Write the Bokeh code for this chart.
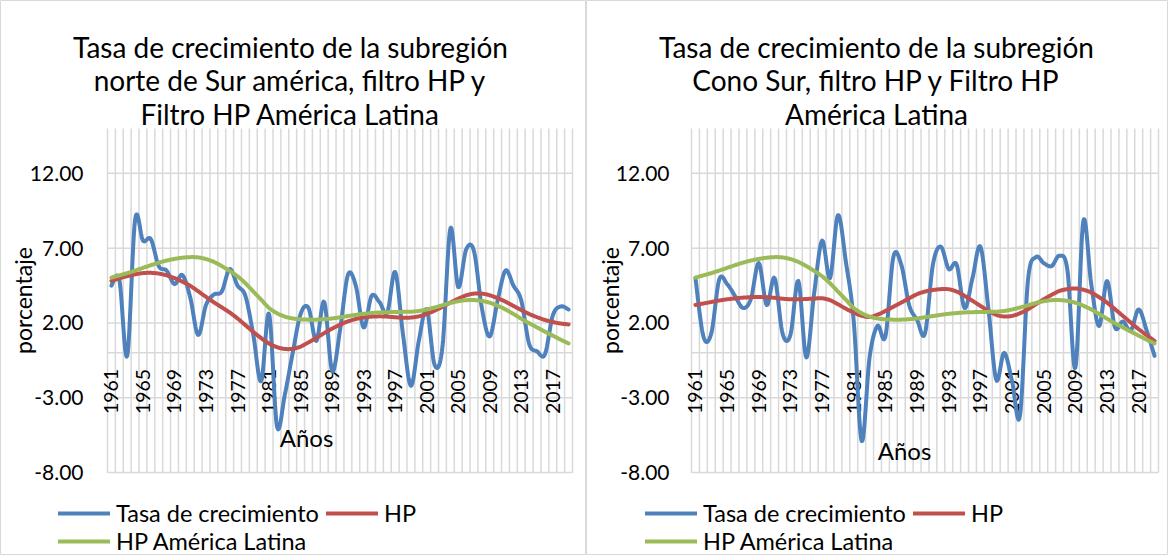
import numpy as np
from bokeh.plotting import figure
from bokeh.models import Range1d, Label, Legend, LegendItem, ColumnDataSource
from bokeh.layouts import row
from bokeh.embed import file_html
from bokeh.resources import INLINE
from bokeh.core.properties import value

# ---------------- data ----------------
years = list(range(1961, 2020))
tick_years = list(range(1961, 2018, 4))
y_ticks = [-8, -3, 2, 7, 12]

norte_tasa = [4.5, 4.9, -0.2, 8.9, 7.5, 7.6, 5.8, 5.5, 4.6, 5.2,
              3.7, 1.2, 3.2, 3.9, 4.1, 5.6, 4.5, 3.8, 1.2, -1.9,
              2.6, -4.9, -2.8, 0.0, 2.6, 3.0, 0.8, 3.4, -1.2, 1.5,
              5.2, 4.5, 1.7, 3.8, 3.4, 2.7, 5.4, 1.2, -2.2, 0.8,
              2.9, -0.8, 0.4, 8.3, 4.4, 6.9, 6.8, 3.0, 1.1, 3.5,
              5.5, 4.5, 3.5, 0.6, 0.1, -0.1, 2.5, 3.1, 2.9]

norte_hp = [4.81, 4.98, 5.13, 5.25, 5.33, 5.35, 5.30, 5.18, 5.00, 4.76,
            4.48, 4.12, 3.74, 3.38, 3.04, 2.70, 2.30, 1.85, 1.40, 0.98,
            0.62, 0.38, 0.26, 0.27, 0.42, 0.70, 1.00, 1.32, 1.62, 1.88,
            2.10, 2.26, 2.37, 2.42, 2.44, 2.42, 2.38, 2.35, 2.36, 2.44,
            2.60, 2.82, 3.08, 3.36, 3.62, 3.84, 3.96, 3.96, 3.85, 3.66,
            3.42, 3.14, 2.86, 2.60, 2.38, 2.20, 2.06, 1.96, 1.90]

cono_tasa = [5.0, 1.1, 1.3, 4.9, 4.6, 3.8, 3.0, 3.6, 6.0, 3.2,
             5.0, 1.3, 1.2, 4.8, -0.3, 4.0, 7.5, 5.0, 9.2, 6.1,
             2.1, -5.9, -0.3, 1.8, 1.1, 6.4, 5.9, 3.2, 2.2, 1.3,
             5.9, 7.1, 5.6, 5.9, 3.0, 5.0, 7.1, 3.0, -1.8, 0.0,
             -1.9, -4.2, 4.8, 6.4, 6.0, 5.8, 6.5, 5.5, -1.0, 8.8,
             4.6, 1.8, 4.8, 1.7, 2.1, 1.5, 2.9, 1.5, -0.2]

cono_hp = [3.20, 3.30, 3.40, 3.50, 3.58, 3.64, 3.69, 3.72, 3.74, 3.72,
           3.68, 3.62, 3.58, 3.58, 3.60, 3.63, 3.65, 3.52, 3.25, 2.95,
           2.69, 2.48, 2.40, 2.55, 2.80, 3.08, 3.36, 3.65, 3.92, 4.10,
           4.20, 4.26, 4.25, 4.10, 3.81, 3.48, 3.14, 2.82, 2.54, 2.43,
           2.47, 2.65, 2.91, 3.25, 3.58, 3.88, 4.14, 4.26, 4.30, 4.22,
           4.03, 3.72, 3.36, 2.92, 2.47, 2.02, 1.58, 1.18, 0.80]

hp_al = [5.03, 5.18, 5.33, 5.50, 5.68, 5.86, 6.03, 6.17, 6.28, 6.36,
         6.40, 6.38, 6.27, 6.08, 5.80, 5.48, 5.12, 4.65, 4.10, 3.55,
         3.00, 2.65, 2.42, 2.30, 2.24, 2.22, 2.22, 2.25, 2.30, 2.38,
         2.46, 2.54, 2.61, 2.66, 2.70, 2.72, 2.73, 2.74, 2.75, 2.80,
         2.90, 3.03, 3.18, 3.33, 3.45, 3.52, 3.53, 3.47, 3.35, 3.15,
         2.90, 2.60, 2.28, 1.98, 1.70, 1.42, 1.15, 0.88, 0.63]

series_names = ["Tasa de crecimiento", "HP", "HP América Latina"]
titles_norte = ["Tasa de crecimiento de la subregión",
                "norte de Sur américa, filtro HP y",
                "Filtro HP América Latina"]
titles_cono = ["Tasa de crecimiento de la subregión",
               "Cono Sur, filtro HP y Filtro HP",
               "América Latina"]
x_title = "Años"
y_title = "porcentaje"

# ---------------- style ----------------
FONT = "Lato"
BLUE, RED, GREEN = "#4f81bd", "#c0504d", "#9bbb59"
GRID = "#d9d9d9"
Y0, Y1 = -8, 15
X0, X1 = years[0] - 0.5, years[-1] + 0.5
H = 555
FT, FB = 128, 472          # plot-area top / bottom (px)


def smooth(xs, ys, n=12):
    """Excel-like smoothed line (Catmull-Rom through the data points)."""
    x = np.asarray(xs, float)
    y = np.asarray(ys, float)
    xp = np.concatenate([[x[0]], x, [x[-1]]])
    yp = np.concatenate([[y[0]], y, [y[-1]]])
    t = np.linspace(0, 1, n, endpoint=False)
    ox, oy = [], []
    for i in range(len(x) - 1):
        for P, out in ((xp, ox), (yp, oy)):
            p0, p1, p2, p3 = P[i], P[i + 1], P[i + 2], P[i + 3]
            c = 0.5 * (2 * p1 + (-p0 + p2) * t + (2 * p0 - 5 * p1 + 4 * p2 - p3) * t ** 2
                       + (-p0 + 3 * p1 - 3 * p2 + p3) * t ** 3)
            out.extend(c.tolist())
    ox.append(x[-1])
    oy.append(y[-1])
    return ox, oy


def make_chart(W, fl, fr, tasa, hp, title_lines, title_cx, anos_xy, ylab_x, legend_x):
    ppx = (fr - fl) / (X1 - X0)
    ppy = (FB - FT) / (Y1 - Y0)
    xr = Range1d(X0 - fl / ppx, X1 + (W - fr) / ppx)
    yr = Range1d(Y0 - (H - FB) / ppy, Y1 + FT / ppy)

    def px2x(px):
        return X0 + (px - fl) / ppx

    def py2y(py):
        return Y1 - (py - FT) / ppy

    p = figure(width=W, height=H, x_range=xr, y_range=yr, x_axis_type=None, y_axis_type=None,
               output_backend="svg", toolbar_location=None, min_border=0, title=None)
    p.outline_line_color = GRID
    p.outline_line_width = 1
    p.background_fill_color = "white"
    p.border_fill_color = "white"

    # gridlines of the plot area
    bounds = [X0 + k for k in range(len(years) + 1)]
    p.segment(x0=bounds, y0=[Y0] * len(bounds), x1=bounds, y1=[Y1] * len(bounds),
              line_color=GRID, line_width=1.5)
    hl = sorted(y_ticks + [0])
    p.segment(x0=[X0] * len(hl), y0=hl, x1=[X1] * len(hl), y1=hl,
              line_color=GRID, line_width=1.5)

    # value-axis labels
    p.text(x=[px2x(83)] * len(y_ticks), y=y_ticks, text=[f"{v:.2f}" for v in y_ticks],
           text_align="right", text_baseline="middle", text_font=value(FONT),
           text_font_size="21px", text_color="black")

    # year labels under the zero line
    ylab = 0 - 16 / ppy
    src = ColumnDataSource(dict(x=tick_years, y=[ylab] * len(tick_years),
                                t=[str(v) for v in tick_years]))
    p.text(x="x", y="y", text="t", source=src, angle=np.pi / 2, text_align="right",
           text_baseline="middle", text_font=value(FONT),
           text_font_size="19.5px", text_color="black")

    sx, sy = smooth(years, tasa)
    r1 = p.line(sx, sy, line_color=BLUE, line_width=4, line_join="round", line_cap="round")
    sx, sy = smooth(years, hp)
    r2 = p.line(sx, sy, line_color=RED, line_width=4, line_join="round", line_cap="round")
    sx, sy = smooth(years, hp_al)
    r3 = p.line(sx, sy, line_color=GREEN, line_width=4, line_join="round", line_cap="round")

    for k, line in enumerate(title_lines):
        p.add_layout(Label(x=px2x(title_cx), y=py2y(46 + 33.5 * k), text=line,
                           text_align="center", text_baseline="middle", text_font=FONT,
                           text_font_size="28px", text_color="black"))
    p.add_layout(Label(x=px2x(anos_xy[0]), y=py2y(anos_xy[1]), text=x_title,
                       text_align="center", text_baseline="middle", text_font=FONT,
                       text_font_size="24px", text_color="black"))
    p.add_layout(Label(x=px2x(ylab_x), y=py2y(300), text=y_title, angle=np.pi / 2,
                       text_align="center", text_baseline="middle", text_font=FONT,
                       text_font_size="23px", text_color="black"))

    legend = Legend(items=[LegendItem(label=series_names[0], renderers=[r1]),
                           LegendItem(label=series_names[1], renderers=[r2]),
                           LegendItem(label=series_names[2], renderers=[r3])],
                    location=(legend_x, 0), orientation="horizontal", ncols=2,
                    label_text_font=FONT, label_text_font_size="23.5px",
                    label_text_color="black", label_width=210,
                    glyph_width=52, glyph_height=24, label_height=24, label_standoff=6,
                    spacing=0, padding=0, margin=0, border_line_color=None,
                    background_fill_alpha=0)
    p.add_layout(legend, "center")
    return p


W1 = 586
W2 = 1168 - W1
p1 = make_chart(W1, 107, 572, norte_tasa, norte_hp, titles_norte, 290, (306, 437), 22, 58)
p2 = make_chart(W2, 105, 572, cono_tasa, cono_hp, titles_cono, 290, (318, 450), 23, 59)

layout = row(p1, p2)
open("out.html", "w").write(file_html(layout, INLINE))
